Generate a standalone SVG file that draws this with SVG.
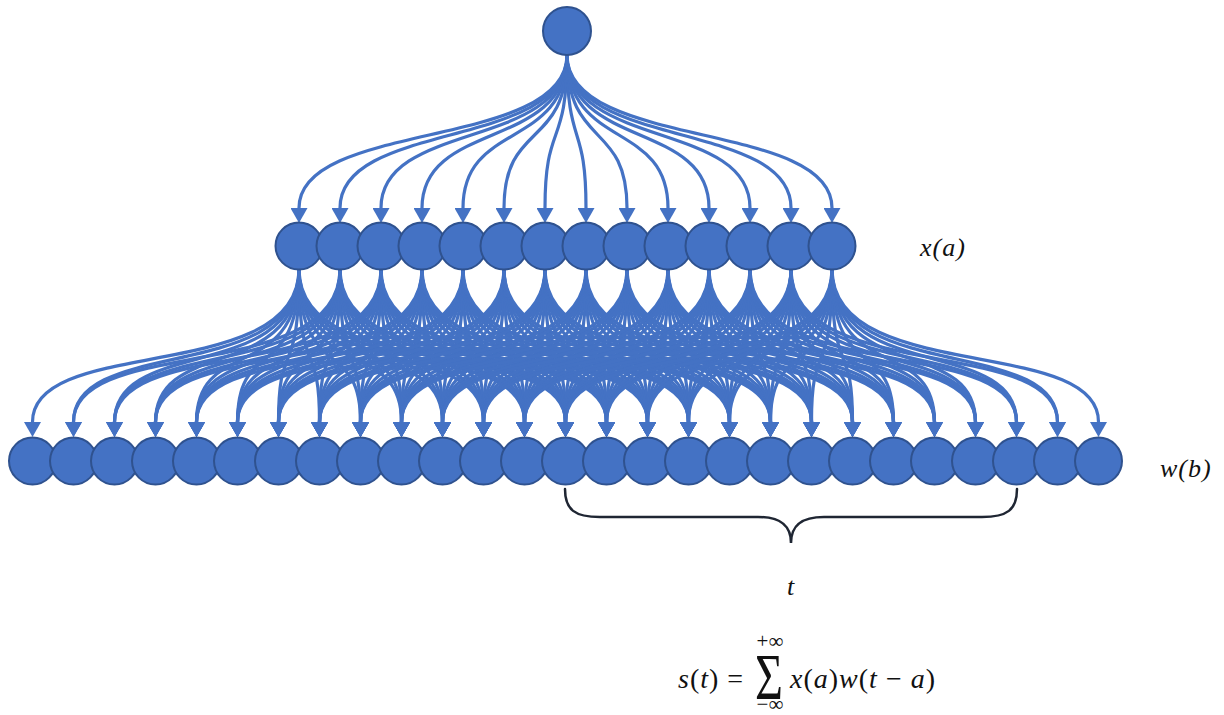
<svg xmlns="http://www.w3.org/2000/svg" xmlns:xlink="http://www.w3.org/1999/xlink" width="1224" height="715" viewBox="0 0 1224 715">
<style>
.node{fill:#4472C4;stroke:#2F528F;stroke-width:2}
.edge{fill:none;stroke:#4472C4;stroke-width:3.2;marker-end:url(#ah)}
.lbl{font-family:"Liberation Serif","DejaVu Serif",serif;font-style:italic;font-size:26px;letter-spacing:1px;fill:#111}
.math{font-family:"Liberation Serif","DejaVu Serif",serif;font-size:28px;letter-spacing:1px;fill:#111}
.it{font-style:italic}
.brace{fill:none;stroke:#1f2633;stroke-width:2.5;stroke-linecap:round}
</style>
<defs>
<marker id="ah" markerUnits="userSpaceOnUse" markerWidth="17" markerHeight="17" refX="0" refY="8.5" orient="auto" viewBox="0 0 17 17">
<path d="M0 0 L15 8.5 L0 17 z" fill="#4472C4"/>
</marker>
<g id="fan">
<path class="edge" d="M0 269 C0 385 -266.5 335 -266.5 422"/>
<path class="edge" d="M0 269 C0 385 -225.5 335 -225.5 422"/>
<path class="edge" d="M0 269 C0 385 -184.5 335 -184.5 422"/>
<path class="edge" d="M0 269 C0 385 -143.5 335 -143.5 422"/>
<path class="edge" d="M0 269 C0 385 -102.5 335 -102.5 422"/>
<path class="edge" d="M0 269 C0 385 -61.5 335 -61.5 422"/>
<path class="edge" d="M0 269 C0 385 -20.5 335 -20.5 422"/>
<path class="edge" d="M0 269 C0 385 20.5 335 20.5 422"/>
<path class="edge" d="M0 269 C0 385 61.5 335 61.5 422"/>
<path class="edge" d="M0 269 C0 385 102.5 335 102.5 422"/>
<path class="edge" d="M0 269 C0 385 143.5 335 143.5 422"/>
<path class="edge" d="M0 269 C0 385 184.5 335 184.5 422"/>
<path class="edge" d="M0 269 C0 385 225.5 335 225.5 422"/>
<path class="edge" d="M0 269 C0 385 266.5 335 266.5 422"/>
</g>
</defs>
<rect width="1224" height="715" fill="#fff"/>
<g id="connectors">
<path class="edge" d="M567 55 C567 150 299 120 299 208"/>
<path class="edge" d="M567 55 C567 150 340 120 340 208"/>
<path class="edge" d="M567 55 C567 150 381 120 381 208"/>
<path class="edge" d="M567 55 C567 150 422 120 422 208"/>
<path class="edge" d="M567 55 C567 150 463 120 463 208"/>
<path class="edge" d="M567 55 C567 150 504 120 504 208"/>
<path class="edge" d="M567 55 C567 150 545 120 545 208"/>
<path class="edge" d="M567 55 C567 150 586 120 586 208"/>
<path class="edge" d="M567 55 C567 150 627 120 627 208"/>
<path class="edge" d="M567 55 C567 150 668 120 668 208"/>
<path class="edge" d="M567 55 C567 150 709 120 709 208"/>
<path class="edge" d="M567 55 C567 150 750 120 750 208"/>
<path class="edge" d="M567 55 C567 150 791 120 791 208"/>
<path class="edge" d="M567 55 C567 150 832 120 832 208"/>
<use xlink:href="#fan" x="299"/>
<use xlink:href="#fan" x="340"/>
<use xlink:href="#fan" x="381"/>
<use xlink:href="#fan" x="422"/>
<use xlink:href="#fan" x="463"/>
<use xlink:href="#fan" x="504"/>
<use xlink:href="#fan" x="545"/>
<use xlink:href="#fan" x="586"/>
<use xlink:href="#fan" x="627"/>
<use xlink:href="#fan" x="668"/>
<use xlink:href="#fan" x="709"/>
<use xlink:href="#fan" x="750"/>
<use xlink:href="#fan" x="791"/>
<use xlink:href="#fan" x="832"/>
</g>
<g id="top"><circle class="node" cx="567" cy="31" r="24"/></g>
<g id="x-row">
<circle id="x0" class="node" cx="299" cy="246" r="23.5"/>
<circle id="x1" class="node" cx="340" cy="246" r="23.5"/>
<circle id="x2" class="node" cx="381" cy="246" r="23.5"/>
<circle id="x3" class="node" cx="422" cy="246" r="23.5"/>
<circle id="x4" class="node" cx="463" cy="246" r="23.5"/>
<circle id="x5" class="node" cx="504" cy="246" r="23.5"/>
<circle id="x6" class="node" cx="545" cy="246" r="23.5"/>
<circle id="x7" class="node" cx="586" cy="246" r="23.5"/>
<circle id="x8" class="node" cx="627" cy="246" r="23.5"/>
<circle id="x9" class="node" cx="668" cy="246" r="23.5"/>
<circle id="x10" class="node" cx="709" cy="246" r="23.5"/>
<circle id="x11" class="node" cx="750" cy="246" r="23.5"/>
<circle id="x12" class="node" cx="791" cy="246" r="23.5"/>
<circle id="x13" class="node" cx="832" cy="246" r="23.5"/>
</g>
<g id="w-row">
<circle id="w0" class="node" cx="32.5" cy="461" r="23.5"/>
<circle id="w1" class="node" cx="73.5" cy="461" r="23.5"/>
<circle id="w2" class="node" cx="114.5" cy="461" r="23.5"/>
<circle id="w3" class="node" cx="155.5" cy="461" r="23.5"/>
<circle id="w4" class="node" cx="196.5" cy="461" r="23.5"/>
<circle id="w5" class="node" cx="237.5" cy="461" r="23.5"/>
<circle id="w6" class="node" cx="278.5" cy="461" r="23.5"/>
<circle id="w7" class="node" cx="319.5" cy="461" r="23.5"/>
<circle id="w8" class="node" cx="360.5" cy="461" r="23.5"/>
<circle id="w9" class="node" cx="401.5" cy="461" r="23.5"/>
<circle id="w10" class="node" cx="442.5" cy="461" r="23.5"/>
<circle id="w11" class="node" cx="483.5" cy="461" r="23.5"/>
<circle id="w12" class="node" cx="524.5" cy="461" r="23.5"/>
<circle id="w13" class="node" cx="565.5" cy="461" r="23.5"/>
<circle id="w14" class="node" cx="606.5" cy="461" r="23.5"/>
<circle id="w15" class="node" cx="647.5" cy="461" r="23.5"/>
<circle id="w16" class="node" cx="688.5" cy="461" r="23.5"/>
<circle id="w17" class="node" cx="729.5" cy="461" r="23.5"/>
<circle id="w18" class="node" cx="770.5" cy="461" r="23.5"/>
<circle id="w19" class="node" cx="811.5" cy="461" r="23.5"/>
<circle id="w20" class="node" cx="852.5" cy="461" r="23.5"/>
<circle id="w21" class="node" cx="893.5" cy="461" r="23.5"/>
<circle id="w22" class="node" cx="934.5" cy="461" r="23.5"/>
<circle id="w23" class="node" cx="975.5" cy="461" r="23.5"/>
<circle id="w24" class="node" cx="1016.5" cy="461" r="23.5"/>
<circle id="w25" class="node" cx="1057.5" cy="461" r="23.5"/>
<circle id="w26" class="node" cx="1098.5" cy="461" r="23.5"/>
</g>
<g id="brace">
<path class="brace" d="M565 489 C565 510 575 517 600 517 L758 517 C780 517 791 525 791 543 C791 525 802 517 824 517 L982 517 C1007 517 1017 510 1017 489"/>
</g>
<g id="labels">
<text class="lbl" x="920" y="256">x(a)</text>
<text class="lbl" x="1160" y="477">w(b)</text>
<text class="lbl" x="791" y="595" text-anchor="middle">t</text>
</g>
<g id="formula" class="math">
<text x="678" y="688"><tspan class="it">s</tspan>(<tspan class="it">t</tspan>) =</text>
<text x="770" y="648" text-anchor="middle" font-size="21" letter-spacing="0">+∞</text>
<text transform="translate(769 699) scale(1 1.38)" text-anchor="middle" font-size="48" letter-spacing="0">Σ</text>
<text x="770" y="711" text-anchor="middle" font-size="21" letter-spacing="0">−∞</text>
<text x="790" y="688"><tspan class="it">x</tspan>(<tspan class="it">a</tspan>)<tspan class="it">w</tspan>(<tspan class="it">t</tspan> − <tspan class="it">a</tspan>)</text>
</g>
</svg>
